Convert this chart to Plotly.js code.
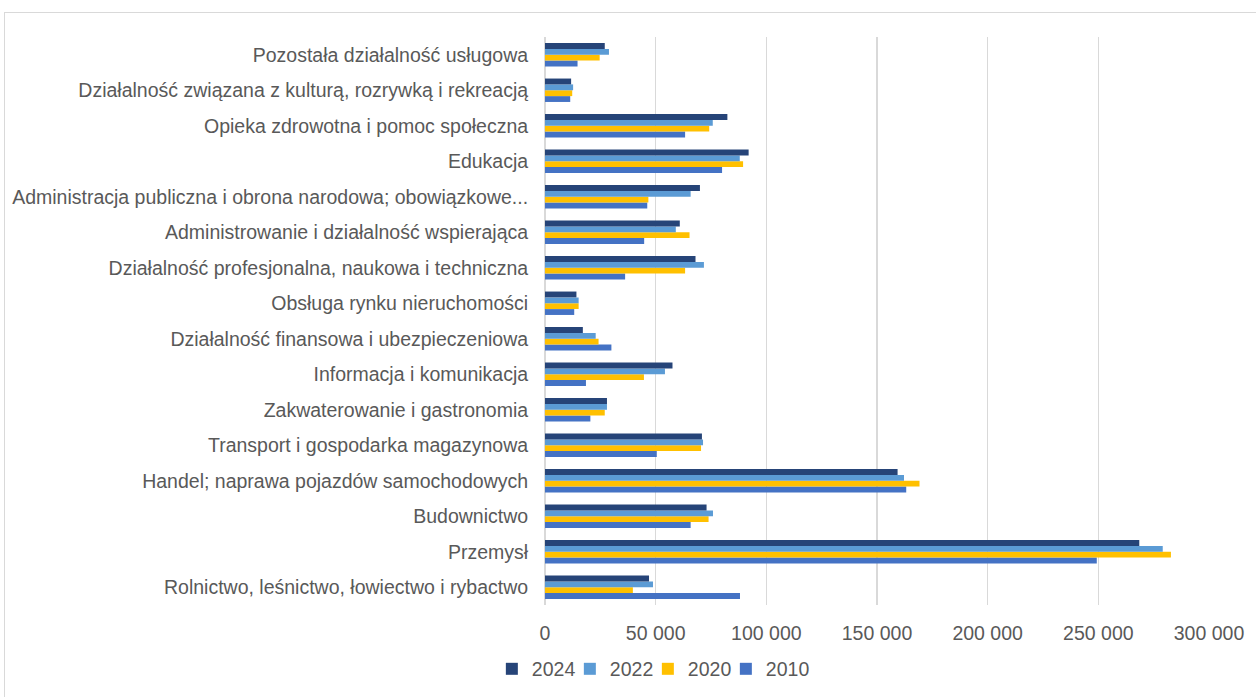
<!DOCTYPE html>
<html>
<head>
<meta charset="utf-8">
<script src="https://cdn.plot.ly/plotly-3.0.1.min.js"></script>
<style>
html,body{margin:0;padding:0;background:#fff;overflow:hidden;}
#chart{width:1256px;height:697px;}
#frame{position:absolute;left:4px;top:12px;width:1300px;height:720px;border:1.5px solid #d9d9d9;pointer-events:none;}
</style>
</head>
<body>
<div id="chart"></div>
<div id="frame"></div>
<script>
// Categories, bottom to top as drawn
const categories = [
  "Rolnictwo, leśnictwo, łowiectwo i rybactwo",
  "Przemysł",
  "Budownictwo",
  "Handel; naprawa pojazdów samochodowych",
  "Transport i gospodarka magazynowa",
  "Zakwaterowanie i gastronomia",
  "Informacja i komunikacja",
  "Działalność finansowa i ubezpieczeniowa",
  "Obsługa rynku nieruchomości",
  "Działalność profesjonalna, naukowa i techniczna",
  "Administrowanie i działalność wspierająca",
  "Administracja publiczna i obrona narodowa; obowiązkowe...",
  "Edukacja",
  "Opieka zdrowotna i pomoc społeczna",
  "Działalność związana z kulturą, rozrywką i rekreacją",
  "Pozostała działalność usługowa"
];
const v2024 = [47000, 268500, 73000, 159300, 70900, 28000, 57600, 17100, 14200, 68000, 60900, 70000, 92000, 82400, 11800, 27000];
const v2022 = [48800, 279100, 75900, 162200, 71400, 28000, 54200, 22900, 15200, 71800, 59100, 65800, 88000, 75800, 12700, 28900];
const v2020 = [39700, 282800, 73900, 169200, 70500, 27000, 44700, 24200, 15200, 63300, 65300, 46700, 89500, 74200, 12300, 24700];
const v2010 = [88100, 249300, 65800, 163200, 50500, 20500, 18500, 30000, 13200, 36200, 44800, 46200, 80000, 63300, 11400, 14700];
const tickVals = [0, 50000, 100000, 150000, 200000, 250000, 300000];
const tickText = ["0", "50 000", "100 000", "150 000", "200 000", "250 000", "300 000"];

const mk = (name, vals, color) => ({
  type: 'bar', orientation: 'h', name: name, x: vals, y: categories,
  marker: {color: color, line: {width: 0}},
  hoverinfo: 'x+name'
});
const data = [
  mk('2010', v2010, '#4472C4'),
  mk('2020', v2020, '#FFC000'),
  mk('2022', v2022, '#5B9BD5'),
  mk('2024', v2024, '#264478')
];
const FS = 19.5;
const layout = {
  width: 1256, height: 697,
  margin: {l: 545, r: 47, t: 37, b: 92, pad: 0},
  paper_bgcolor: '#fff', plot_bgcolor: '#fff',
  barmode: 'group', bargap: 0.34, bargroupgap: 0,
  font: {family: 'Liberation Sans, Arial, sans-serif', size: FS, color: '#595959'},
  xaxis: {
    range: [0, 300000], tickvals: tickVals, ticktext: tickText,
    showgrid: true, gridcolor: '#d9d9d9', gridwidth: 1.5,
    zeroline: true, zerolinecolor: '#d9d9d9', zerolinewidth: 1.5,
    showline: false, ticks: 'outside', ticklen: 11, tickcolor: 'rgba(0,0,0,0)',
    tickfont: {size: FS, color: '#595959'}, fixedrange: true
  },
  yaxis: {
    type: 'category', showgrid: false, zeroline: false, showline: false,
    ticks: 'outside', ticklen: 12, tickcolor: 'rgba(0,0,0,0)',
    tickfont: {size: FS, color: '#595959'}, automargin: false, fixedrange: true
  },
  legend: {
    orientation: 'h', traceorder: 'reversed', x: 0.3916, xanchor: 'left',
    xref: 'container', y: 0.012, yanchor: 'bottom', yref: 'container',
    font: {size: FS, color: '#595959'}, itemwidth: 30,
    entrywidth: 33, entrywidthmode: 'pixels'
  },
  showlegend: true
};
Plotly.newPlot('chart', data, layout, {displayModeBar: false, staticPlot: true}).then(function () {
  // let the last legend label overflow its compact entry width
  document.querySelectorAll('.legend .scrollbox, .legend').forEach(function (el) {
    el.removeAttribute('clip-path');
  });
});
</script>
</body>
</html>
